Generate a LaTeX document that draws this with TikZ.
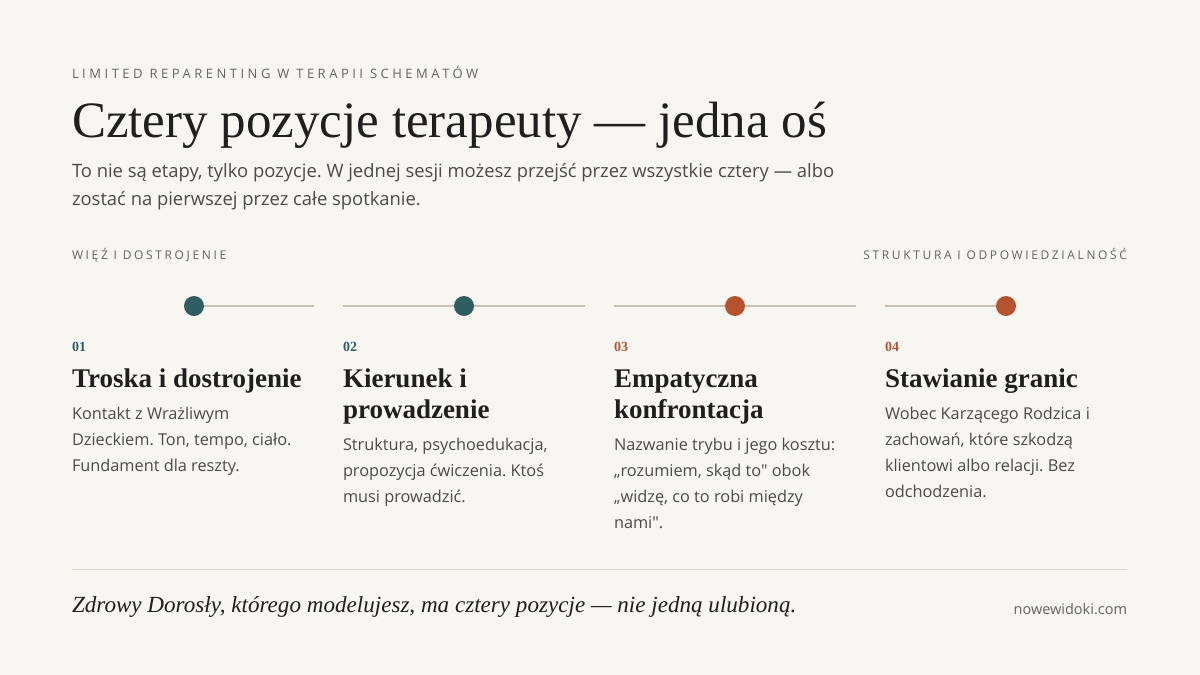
\documentclass[tikz,border=0pt]{standalone}
\usepackage{fontspec}
\setmainfont{Liberation Serif}
\newfontfamily\bodyfont{Open Sans}
\newfontfamily\capsfont[LetterSpace=27]{Open Sans}
\newfontfamily\sectfont[LetterSpace=22]{Open Sans}
\definecolor{bg}{HTML}{F8F6F1}
\definecolor{ink}{HTML}{1F1F1F}
\definecolor{mute}{HTML}{4A4A4A}
\definecolor{capgray}{HTML}{626260}
\definecolor{teal}{HTML}{2F5D62}
\definecolor{rust}{HTML}{B5532E}
\definecolor{rail}{HTML}{C8BFB3}
\definecolor{rule}{HTML}{DDD8CF}
\tikzset{
  txt/.style={inner sep=0pt, outer sep=0pt, anchor=base west, align=left},
  kicker/.style={txt, font=\capsfont\fontsize{13}{13}\selectfont, text=capgray},
  sect/.style={txt, font=\sectfont\fontsize{12}{12}\selectfont, text=capgray},
  ttl/.style={txt, font=\fontsize{51}{51}\selectfont, text=ink},
  sub/.style={txt, font=\bodyfont\fontsize{18.4}{28}\selectfont, text=mute},
  num/.style={txt, font=\bfseries\fontsize{14}{14}\selectfont},
  cardttl/.style={txt, font=\bfseries\fontsize{27}{31}\selectfont, text=ink},
  body/.style={txt, font=\bodyfont\fontsize{16.3}{26}\selectfont, text=mute},
  railline/.style={draw=rail, line width=2pt},
  dot/.style={circle, minimum size=20pt, inner sep=0pt},
}
\begin{document}
\frenchspacing
\begin{tikzpicture}[x=1pt,y=-1pt]
\fill[bg] (0,0) rectangle (1200,675);
\useasboundingbox (0,0) rectangle (1200,675);

% multi-line nodes are anchored at the baseline of their last line
\node[kicker] (kick) at (72,78) {LIMITED REPARENTING W TERAPII SCHEMATÓW};
\node[ttl] (title) at (72,137) {Cztery pozycje terapeuty — jedna oś};
\node[sub] (subt) at (72,205) {To nie są etapy, tylko pozycje. W jednej sesji możesz przejść przez wszystkie cztery — albo\\zostać na pierwszej przez całe spotkanie.};

\node[sect] (left) at (72,259) {WIĘŹ I DOSTROJENIE};
\node[sect, anchor=base east] (right) at (1127,259) {STRUKTURA I ODPOWIEDZIALNOŚĆ};

% rails
\coordinate (r1e) at (314,306);
\coordinate (r2s) at (343,306); \coordinate (r2e) at (585,306);
\coordinate (r3s) at (614,306); \coordinate (r3e) at (856,306);
\coordinate (r4s) at (885,306);
\node[dot, fill=teal] (d1) at (194,306) {};
\node[dot, fill=teal] (d2) at (464,306) {};
\node[dot, fill=rust] (d3) at (735,306) {};
\node[dot, fill=rust] (d4) at (1006,306) {};
\draw[railline] (d1.east) -- (r1e);
\draw[railline] (r2s) -- (d2.west); \draw[railline] (d2.east) -- (r2e);
\draw[railline] (r3s) -- (d3.west); \draw[railline] (d3.east) -- (r3e);
\draw[railline] (r4s) -- (d4.west);

% cards
\node[num, text=teal] (n1) at (72,351) {01};
\node[num, text=teal] (n2) at (343,351) {02};
\node[num, text=rust] (n3) at (614,351) {03};
\node[num, text=rust] (n4) at (885,351) {04};

\node[cardttl] (t1) at (72,387) {Troska i dostrojenie};
\node[cardttl] (t2) at (343,418) {Kierunek i\\prowadzenie};
\node[cardttl] (t3) at (614,418) {Empatyczna\\konfrontacja};
\node[cardttl] (t4) at (885,387) {Stawianie granic};

\node[body] (b1) at (72,471) {Kontakt z Wrażliwym\\Dzieckiem. Ton, tempo, ciało.\\Fundament dla reszty.};
\node[body] (b2) at (343,502) {Struktura, psychoedukacja,\\propozycja ćwiczenia. Ktoś\\musi prowadzić.};
\node[body] (b3) at (614,528) {Nazwanie trybu i jego kosztu:\\„rozumiem, skąd to" obok\\„widzę, co to robi między\\nami".};
\node[body] (b4) at (885,497) {Wobec Karzącego Rodzica i\\zachowań, które szkodzą\\klientowi albo relacji. Bez\\odchodzenia.};

% footer
\coordinate (fl) at (72,569); \coordinate (fr) at (1127,569);
\draw[draw=rule, line width=1pt] (fl) -- (fr);
\node[txt, font=\itshape\fontsize{23.1}{23.1}\selectfont, text=ink] (quote) at (72,612) {Zdrowy Dorosły, którego modelujesz, ma cztery pozycje — nie jedną ulubioną.};
\node[txt, anchor=base east, font=\bodyfont\fontsize{14.5}{14.5}\selectfont, text=capgray] (site) at (1127,614) {nowewidoki.com};
\end{tikzpicture}
\end{document}
